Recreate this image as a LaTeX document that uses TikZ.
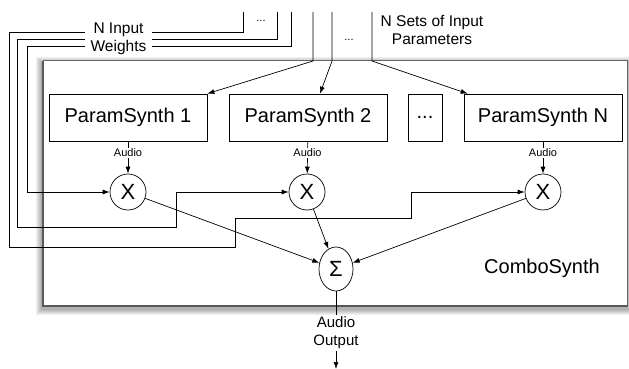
\documentclass[tikz,border=0pt]{standalone}
\usepackage{fontspec}
\setmainfont{Liberation Sans}
\usetikzlibrary{shapes.geometric, arrows.meta}
\tikzset{>={Latex[length=7pt,width=5pt]}, % filled arrow heads
x=1pt, y=-1pt, % one unit is one pixel of the layout, y grows downwards
every path/.style={line width=0.7pt},
synth/.style={draw, minimum width=158pt, minimum height=47pt, font=\fontsize{20}{24}\selectfont}, % the ParamSynth boxes
mult/.style={draw, circle, minimum size=36pt, inner sep=0pt, font=\fontsize{22}{24}\selectfont}, % the X nodes
adder/.style={draw, ellipse, minimum width=34pt, minimum height=44pt, inner sep=0pt, font=\fontsize{22}{24}\selectfont},
small/.style={font=\fontsize{11}{13}\selectfont},
caption/.style={align=center, font=\fontsize{15.5}{18}\selectfont},
}

\begin{document}
\begin{tikzpicture}
    \useasboundingbox (0,0) rectangle (629,369);
    % soft shadow and the ComboSynth box
    \foreach \d in {1,...,6}
        \fill[black, opacity=0.06] (42-\d,63-\d) rectangle (627+\d,308+\d+1);
    \draw[black!60, fill=white, line width=1pt] (43,61) rectangle (627,306);
    \draw[black!65, line width=1.6pt] (43,61) -- (43,306) -- (627,306);
    \node[font=\fontsize{20}{24}\selectfont] (combo) at (542,268) {ComboSynth};

    % the synths
    \node[synth] (ps1) at (128,117.5) {ParamSynth 1};
    \node[synth] (ps2) at (308,117.5) {ParamSynth 2};
    \node[synth, minimum width=34pt] (psdots) at (425,117.5) {...};
    \node[synth] (psN) at (543,117.5) {ParamSynth N};

    % multipliers and the sum
    \node[mult] (x1) at (128,192) {X};
    \node[mult] (x2) at (307,192) {X};
    \node[mult] (x3) at (543,192) {X};
    \node[adder] (sum) at (336,269) {Σ};

    % audio from each synth
    \draw[->] (ps1) -- node[small, fill=white, inner sep=1pt, pos=0.35]{Audio} (x1);
    \draw[->] (ps2) -- node[small, fill=white, inner sep=1pt, pos=0.35]{Audio} (x2);
    \draw[->] (psN) -- node[small, fill=white, inner sep=1pt, pos=0.35]{Audio} (x3);
    \draw[->] (x1) -- (sum);
    \draw[->] (x2) -- (sum);
    \draw[->] (x3) -- (sum);

    % input parameters
    \coordinate (p1top) at (313,12);
    \coordinate (p2top) at (332,12);
    \coordinate (p3top) at (372,12);
    \draw[->] (p1top) -- (313,61) -- (ps1.north east);
    \draw[->] (p2top) -- (332,61) -- ([xshift=12pt]ps2.north);
    \draw[->] (p3top) -- (372,61) -- ([xshift=4pt]psN.north west);
    \node[small] (pdots) at (349,40) {...};
    \node[caption] (plabel) at (432,30) {N Sets of Input\\Parameters};

    % input weights
    \coordinate (w1top) at (243,12);
    \coordinate (w2top) at (277,12);
    \coordinate (w3top) at (291,12);
    \draw[->] (w1top) |- (9,32) |- (235,247) |- (411,218) |- (x3);
    \draw[->] (w2top) |- (17,39) |- (176,227) |- (x2);
    \draw[->] (w3top) |- (27,46) |- (x1);
    \node[small] (wdots) at (261,21) {...};
    \node[caption, fill=white, inner xsep=5.5pt, inner ysep=1pt] (wlabel) at (118.5,39) {N Input\\Weights};

    % output
    \node[caption, font=\fontsize{15}{18}\selectfont, fill=white, inner sep=2pt] (out) at (336,333) {Audio\\Output};
    \coordinate (outend) at (336,369);
    \draw (sum) -- (out);
    \draw[->] (out) -- (outend);
\end{tikzpicture}
\end{document}
